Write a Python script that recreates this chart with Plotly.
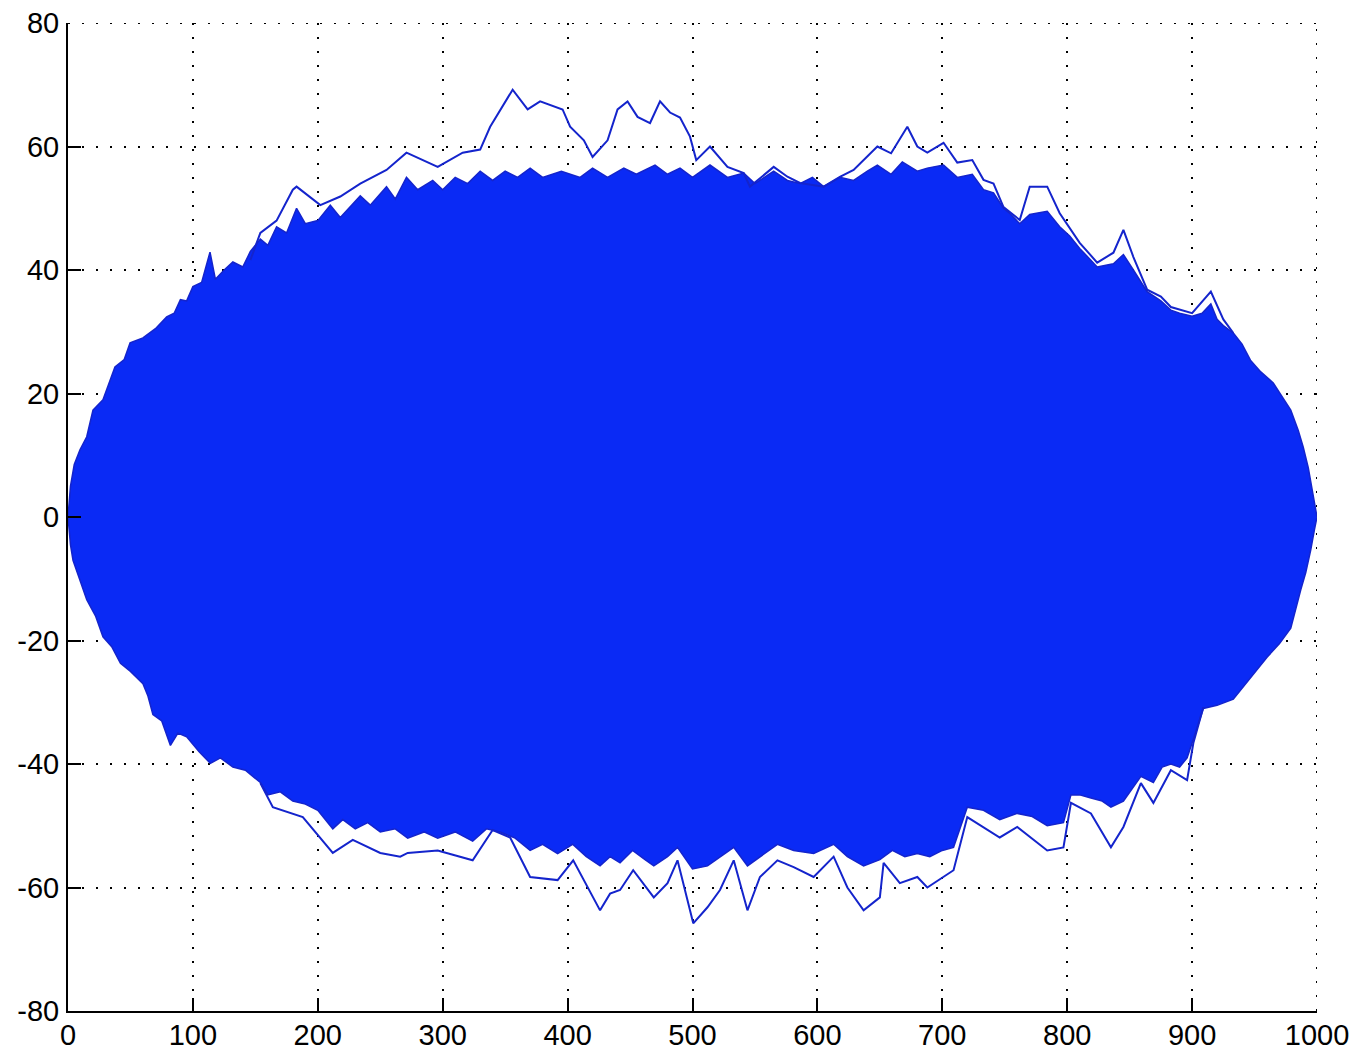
import plotly.graph_objects as go

# Dense core of the path bundle: upper boundary of the mostly solid region
core_upper_x = [0, 2, 5, 9.6, 15, 20, 28, 37.6, 45, 49.7, 60, 70, 79, 85, 90, 95, 100, 107, 113.7, 118,
                125, 132, 140, 146, 154, 160, 167, 175, 183, 190, 200, 210, 218, 225, 234, 242, 255,
                262, 271, 280, 292, 300, 310, 320, 330, 340, 350, 360, 370, 380, 395, 410, 420, 432,
                445, 455, 470, 480, 490, 500, 514, 528, 541, 550, 565, 576, 586, 596, 605, 618, 629,
                640, 648, 659, 668, 680, 688, 701, 712, 724, 733, 741, 749, 755, 762, 770, 784, 794,
                802, 810, 817, 824, 837, 845, 853, 864, 875, 883, 890, 900, 908, 915, 920, 925, 933,
                940, 946.7, 955, 965, 972, 979, 985, 989, 993, 995, 998, 1000]
core_upper_y = [0, 5, 8.5, 10.9, 13, 17.3, 19, 24.3, 25.5, 28.2, 29, 30.5, 32.4, 33, 35.2, 35, 37.3,
                38, 42.9, 38.5, 40, 41.3, 40.5, 43, 45, 44, 47, 46, 50, 47.5, 48, 50.5, 48.5, 50, 52,
                50.5, 53.5, 51.5, 55, 53, 54.5, 53, 55, 54, 56, 54.5, 56, 55, 56.5, 55, 56, 55, 56.5,
                55, 56.5, 55.5, 57, 55.5, 56.5, 55, 57, 55, 55.7, 54, 56, 54.5, 54, 55, 53.5, 55,
                54.5, 56, 57, 55.5, 57.5, 56, 56.5, 57, 55, 55.5, 53, 52.5, 50, 49, 47.5, 49, 49.5,
                47, 45.5, 43.5, 42, 40.5, 41, 42.5, 40, 36.5, 35, 33.5, 33, 32.5, 33, 34.5, 32, 31,
                29.8, 28, 25.4, 23.5, 21.7, 19.5, 17.3, 14, 11.3, 8, 5.5, 2.5, 0]

# Dense core of the path bundle: lower boundary of the mostly solid region
core_lower_x = [0, 2, 4, 10, 15, 22, 28, 35, 42, 50, 60, 64, 68, 75, 82, 88, 95, 105, 114, 122, 132,
                142, 154, 160, 170, 180, 190, 200, 212, 220, 230, 240, 250, 262, 272, 285, 296, 310,
                324, 335, 346, 358, 370, 380, 392, 404, 415, 426, 434, 442, 452, 462, 469, 480, 488,
                500, 512, 522, 533, 544, 554, 568, 581, 597, 613, 624, 637, 650, 660, 670, 680, 690,
                700, 709, 720, 733, 746, 760, 772, 784, 797, 803, 810, 819, 828, 835, 845, 852, 859,
                869, 876, 883, 890, 896, 901, 909, 920, 933, 945, 960, 970, 979, 987, 991, 995, 998,
                1000]
core_lower_y = [0, -4.5, -7, -10.5, -13.4, -16, -19.4, -21, -23.7, -25, -27, -29, -32, -33, -37, -35,
                -35.6, -38, -39.9, -39, -40.5, -41, -43, -45, -44.5, -46, -46.5, -47.5, -50.5, -49,
                -50.5, -49.5, -51, -50.5, -52, -51, -52, -51, -52.5, -50.5, -51, -52, -54, -53, -54.5,
                -53, -55, -56.5, -55, -56, -54, -55.5, -56.5, -55, -53.5, -57, -56.5, -55, -53.5,
                -56.5, -55, -53, -54, -54.5, -53, -55, -56.5, -55.5, -54, -55, -54.5, -55, -54,
                -53.5, -47, -47.5, -49, -48, -48.5, -50, -49.5, -45, -45, -45.5, -46, -47, -46, -44,
                -42, -43, -40.5, -40, -40.5, -39, -36, -31, -30.5, -29.5, -26.5, -22.7, -20.5, -18,
                -11.8, -9, -5.3, -2, 0]

# Outermost excursions above the bundle
top_x = [146, 154, 167, 180, 183, 202, 218, 234, 255, 271, 296, 316, 330, 338, 356, 368, 378, 396,
         402, 413, 420, 432, 440, 448, 456, 466, 474, 482, 490, 498, 503, 514, 528, 541, 546, 565,
         576, 586, 605, 618, 629, 648, 659, 672, 680, 688, 701, 712, 724, 733, 741, 749, 762, 770,
         784, 794, 810, 824, 837, 845, 853, 864, 875, 883, 900, 915, 925, 933]
top_y = [41.6, 46, 48, 53, 53.5, 50.5, 51.9, 54, 56.2, 59, 56.7, 59, 59.5, 63.2, 69.2, 66, 67.3, 66,
         63.2, 61, 58.3, 61, 66, 67.3, 64.8, 63.8, 67.3, 65.5, 64.7, 61.6, 57.8, 60, 56.7, 55.7, 53.5,
         56.7, 55.1, 54.1, 53.5, 55.1, 56.2, 60, 58.9, 63.2, 60, 59, 60.6, 57.4, 57.8, 54.6, 54,
         50.2, 48.1, 53.5, 53.5, 49.2, 44.4, 41.2, 42.8, 46.5, 42.1, 36.8, 35.7, 34, 33, 36.5, 32,
         29.8]

# Outermost excursions below the bundle
bottom_x = [154, 164, 188, 212, 228, 250, 266, 272, 296, 324, 340, 354, 370, 392, 404.5, 426, 434,
            442, 452.5, 469, 480, 488, 500.6, 512, 522, 533, 544, 554, 568, 581, 597, 613, 624, 637,
            650, 653, 666, 680, 688, 709, 720, 746, 760, 784, 797, 803, 819, 835, 845, 859, 869,
            883, 896, 901, 909]
bottom_y = [-43.1, -47, -48.6, -54.4, -52.3, -54.4, -55, -54.4, -54, -55.6, -50.7, -51.9, -58.3,
            -58.8, -55.6, -63.7, -61, -60.4, -57.2, -61.6, -59.3, -55.6, -65.8, -63.2, -60.4, -55.6,
            -63.7, -58.3, -55.6, -56.7, -58.3, -55, -60, -63.7, -61.6, -56, -59.3, -58.3, -60,
            -57.2, -48.6, -51.9, -50.2, -54, -53.5, -46.3, -48, -53.5, -50.2, -43.1, -46.3, -41,
            -42.6, -36.6, -30.8]

x_ticks = [0, 100, 200, 300, 400, 500, 600, 700, 800, 900, 1000]
y_ticks = [-80, -60, -40, -20, 0, 20, 40, 60, 80]

FILL = "#0a2af5"
EDGE = "#1424cc"

fig = go.Figure()

fig.add_trace(go.Scatter(
    x=core_upper_x + core_lower_x[::-1],
    y=core_upper_y + core_lower_y[::-1],
    fill="toself", fillcolor=FILL, mode="lines",
    line=dict(color=EDGE, width=1.5), hoverinfo="skip", showlegend=False,
))
fig.add_trace(go.Scatter(x=top_x, y=top_y, mode="lines",
                         line=dict(color=EDGE, width=2), showlegend=False))
fig.add_trace(go.Scatter(x=bottom_x, y=bottom_y, mode="lines",
                         line=dict(color=EDGE, width=2), showlegend=False))

axis_font = dict(family="Liberation Sans, Arial, sans-serif", size=29, color="black")
common = dict(showgrid=True, gridcolor="black", gridwidth=2, griddash="2px,12px",
              showline=True, linecolor="black", linewidth=2, zeroline=False,
              ticks="inside", ticklen=13, tickwidth=2, tickcolor="black",
              tickfont=axis_font, mirror=False, automargin=False)

fig.update_xaxes(range=[0, 1000], tickvals=x_ticks, ticktext=[str(v) for v in x_ticks],
                 ticklabelstandoff=-3, **common)
fig.update_yaxes(range=[-80, 80], tickvals=y_ticks, ticktext=[str(v) for v in y_ticks],
                 ticklabelstandoff=1, **common)

# dotted frame along the top and right edges
fig.add_shape(type="line", xref="x", yref="y", x0=0, x1=1000, y0=80, y1=80,
              line=dict(color="black", width=2, dash="2px,12px"), layer="below")
fig.add_shape(type="line", xref="x", yref="y", x0=1000, x1=1000, y0=-80, y1=80,
              line=dict(color="black", width=2, dash="2px,12px"), layer="below")

fig.update_layout(
    width=1351, height=1053,
    margin=dict(l=68, r=34, t=23, b=42),
    plot_bgcolor="white", paper_bgcolor="white",
)

fig.write_html("out.html")
